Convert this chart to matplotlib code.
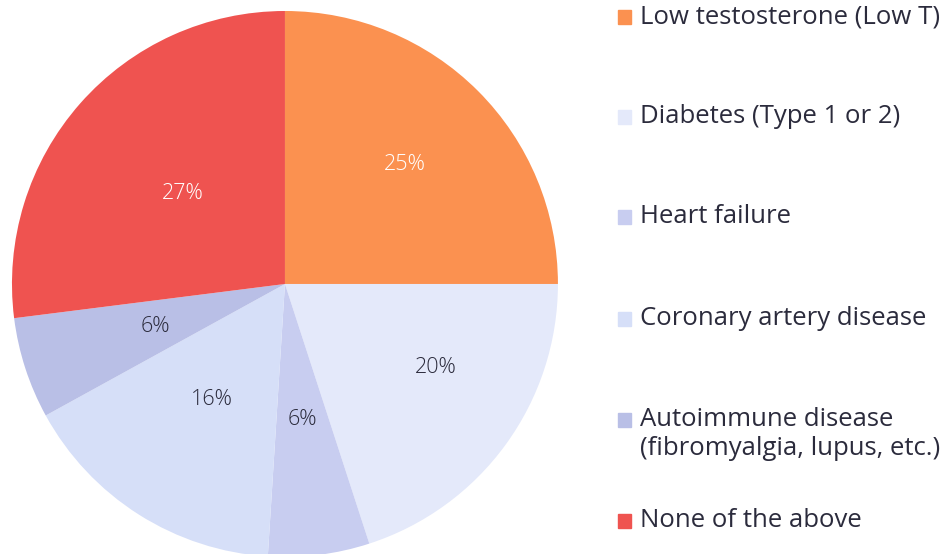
import numpy as np
import matplotlib.pyplot as plt
from matplotlib.patches import Rectangle

plt.rcParams['font.family'] = ['Open Sans', 'DejaVu Sans']

# ---- data ----
labels = ["Low testosterone (Low T)", "Diabetes (Type 1 or 2)", "Heart failure",
          "Coronary artery disease", "Autoimmune disease\n(fibromyalgia, lupus, etc.)",
          "None of the above"]
values = [25, 20, 6, 16, 6, 27]
colors = ["#FB9150", "#E4E9FA", "#C8CDF0", "#D6DFF8", "#B9BFE6", "#EF5350"]
pct_colors = ["white", "#2B2B3C", "#2B2B3C", "#2B2B3C", "#2B2B3C", "white"]
pct_dist = [0.62, 0.63, 0.5, 0.5, 0.5, 0.5]
pct_shift = [0, 7, 0, 0, 0, 0]  # degrees, label nudge along the arc

text_col = "#2B2B3C"

fig = plt.figure(figsize=(9.5, 5.54), dpi=100)
ax = fig.add_axes([0.0126, -0.0054, 0.5747, 0.9856])

wedges, _ = ax.pie(values, colors=colors, startangle=90, counterclock=False,
                   wedgeprops=dict(linewidth=0))
ax.set_xlim(-1, 1)
ax.set_ylim(-1, 1)
ax.set_aspect('equal')

for w, v, c, d, s in zip(wedges, values, pct_colors, pct_dist, pct_shift):
    mid = np.deg2rad((w.theta1 + w.theta2) / 2 + s)
    ax.text(d * np.cos(mid), d * np.sin(mid), f"{v}%", ha='center', va='center',
            fontsize=15.5, color=c, fontweight='light')

# ---- legend ----
legend_y = [17, 117, 217, 319, 420, 521]  # px from top, centre of first line
for lab, col, y in zip(labels, colors, legend_y):
    fy = 1 - y / 554
    fig.patches.append(Rectangle((618 / 950, fy - 7 / 554), 13 / 950, 14 / 554,
                                 transform=fig.transFigure, color=col))
    fig.text(640 / 950, fy + 13 / 554, lab, ha='left', va='top', fontsize=18.5,
             color=text_col, linespacing=1.2)

fig.savefig("out.png", dpi=100)
